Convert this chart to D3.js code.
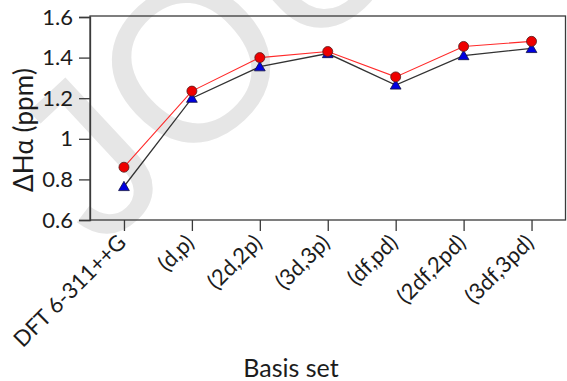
<!DOCTYPE html>
<html>
<head>
<meta charset="utf-8">
<script src="https://cdn.jsdelivr.net/npm/d3@7/dist/d3.min.js"></script>
<style>
  html, body { margin: 0; padding: 0; background: #fff; }
  svg { display: block; }
  text { font-family: Lato, "Open Sans", "DejaVu Sans", sans-serif; fill: #1c1c1c; }
</style>
</head>
<body>
<svg id="chart" width="567" height="381"></svg>
<script>
// Basis sets along the x axis
const basisSets = ["DFT 6-311++G", "(d,p)", "(2d,2p)", "(3d,3p)", "(df,pd)", "(2df,2pd)", "(3df,3pd)"];
// ΔHα (ppm) for the two series
const circleSeries = [0.86, 1.235, 1.40, 1.43, 1.305, 1.455, 1.48];
const triangleSeries = [0.765, 1.20, 1.355, 1.42, 1.265, 1.41, 1.445];
// y axis ticks
const yTicks = [0.6, 0.8, 1.0, 1.2, 1.4, 1.6];
const yTickLabels = ["0.6", "0.8", "1", "1.2", "1.4", "1.6"];

const svg = d3.select("#chart");
const W = 567, H = 381;
const m = { left: 90, right: 1.5, top: 16, bottom: 161 };
const plotL = m.left, plotR = W - m.right, plotT = m.top, plotB = H - m.bottom;

// faint background stamp
svg.append("text")
  .attr("transform", "translate(100,252) rotate(-43)")
  .style("font-family", "'Liberation Sans', Arial, sans-serif")
  .style("font-size", "220px")
  .style("fill", "#e6e6e6")
  .text("JOURNAL");

const x = d3.scalePoint().domain(basisSets).range([plotL, plotR]).padding(0.5);
const y = d3.scaleLinear().domain([0.6, 1.6]).range([plotB, 17]);

// frame
svg.append("rect")
  .attr("x", plotL).attr("y", plotT)
  .attr("width", plotR - plotL).attr("height", plotB - plotT)
  .attr("fill", "none").attr("stroke", "#3a3a3a").attr("stroke-width", 1.3);

// y axis
const yAxis = d3.axisLeft(y).tickValues(yTicks)
  .tickFormat((d, i) => yTickLabels[i]).tickSize(11).tickPadding(6);
const gy = svg.append("g").attr("transform", `translate(${plotL},0)`).call(yAxis);
gy.select(".domain").attr("stroke", "#3a3a3a").attr("stroke-width", 1.3);
gy.selectAll(".tick line").attr("stroke", "#3a3a3a").attr("stroke-width", 1.3);
gy.selectAll(".tick text").style("font-size", "22px").style("font-family", "Lato, sans-serif").attr("fill", "#1c1c1c");

// x axis
const xAxis = d3.axisBottom(x).tickSize(11).tickSizeOuter(0);
const gx = svg.append("g").attr("transform", `translate(0,${plotB})`).call(xAxis);
gx.select(".domain").remove();
gx.selectAll(".tick line").attr("stroke", "#3a3a3a").attr("stroke-width", 1.3);
gx.selectAll(".tick text")
  .style("font-size", "22px").style("font-family", "Lato, sans-serif").attr("fill", "#1c1c1c")
  .attr("text-anchor", "end")
  .attr("x", 0).attr("y", 0).attr("dy", "0")
  .attr("transform", "translate(3,24) rotate(-45)");

// axis titles
svg.append("text")
  .attr("transform", `translate(33,130) rotate(-90)`)
  .attr("text-anchor", "middle")
  .style("font-size", "26px")
  .text("ΔHα (ppm)");
svg.append("text")
  .attr("x", 291).attr("y", 377)
  .attr("text-anchor", "middle")
  .style("font-size", "25px")
  .text("Basis set");

// lines
const line = d3.line().x((d, i) => x(basisSets[i])).y(d => y(d));
svg.append("path").datum(triangleSeries).attr("d", line)
  .attr("fill", "none").attr("stroke", "#333").attr("stroke-width", 1.3);
svg.append("path").datum(circleSeries).attr("d", line)
  .attr("fill", "none").attr("stroke", "#ff2a2a").attr("stroke-width", 1.1);

// markers
const tri = d3.symbol().type(d3.symbolTriangle).size(50);
svg.append("g").selectAll("path").data(triangleSeries).join("path")
  .attr("d", tri)
  .attr("transform", (d, i) => `translate(${x(basisSets[i])},${y(d) + 1})`)
  .attr("fill", "#0000e0").attr("stroke", "#101040").attr("stroke-width", 0.8);
svg.append("g").selectAll("circle").data(circleSeries).join("circle")
  .attr("cx", (d, i) => x(basisSets[i])).attr("cy", d => y(d)).attr("r", 5)
  .attr("fill", "#ee0000").attr("stroke", "#502020").attr("stroke-width", 0.8);
</script>
</body>
</html>
